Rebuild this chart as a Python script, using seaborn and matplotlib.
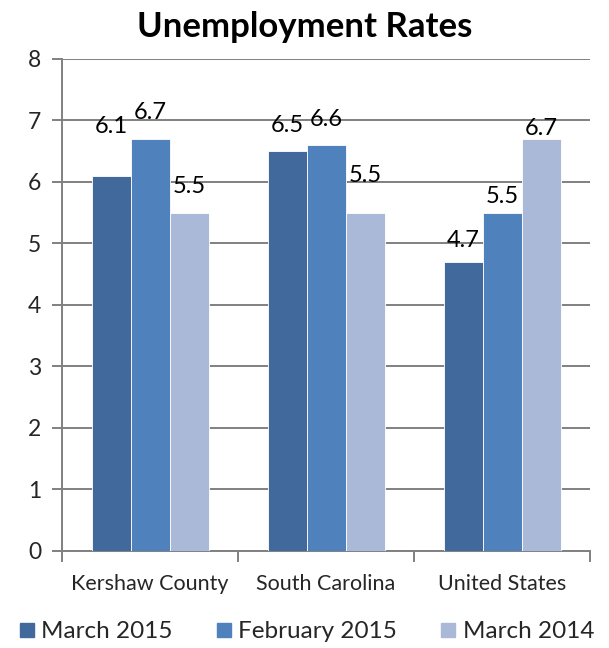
import pandas as pd
import numpy as np
import seaborn as sns
import matplotlib.pyplot as plt

# Chart data
regions = ["Kershaw County", "South Carolina", "United States"]
periods = ["March 2015", "February 2015", "March 2014"]
march_2015 = [6.1, 6.5, 4.7]
february_2015 = [6.7, 6.6, 5.5]
march_2014 = [5.5, 5.5, 6.7]

# Label nudges (points above bar top) to mimic the original placement
label_nudge = [[31, 14, 14], [14, 14, 22], [11, 7, 3]]

colors = ["#41699B", "#4F81BD", "#A9B9D7"]

df = pd.DataFrame({
    "Region": np.repeat(regions, 3),
    "Period": periods * 3,
    "Rate": [v for trio in zip(march_2015, february_2015, march_2014) for v in trio],
})

sns.set_style("white")
plt.rcParams["font.family"] = ["Lato", "DejaVu Sans"]

fig = plt.figure(figsize=(6.09, 6.48), dpi=100)
ax = fig.add_axes([0.102, 0.150, 0.867, 0.759])

sns.barplot(data=df, x="Region", y="Rate", hue="Period", order=regions, hue_order=periods,
            palette=colors, width=0.665, gap=0, saturation=1, ax=ax, legend=False,
            edgecolor="white", linewidth=0.6, zorder=3)

# Value labels above each bar
for j, container in enumerate(ax.containers):
    for i, bar in enumerate(container):
        h = bar.get_height()
        ax.annotate(f"{h:.1f}", (bar.get_x() + bar.get_width() / 2, h),
                    xytext=(0, label_nudge[i][j]), textcoords="offset points",
                    ha="center", va="baseline", fontsize=17, color="black")

# Axes styling
ax.set_ylim(0, 8)
ax.set_xlim(-0.5, 2.5)
ax.set_yticks(range(0, 9))
ax.yaxis.grid(True, color="#808080", linewidth=1.4, zorder=0)
ax.set_axisbelow(True)
for side in ["top", "right"]:
    ax.spines[side].set_visible(False)
for side in ["left", "bottom"]:
    ax.spines[side].set_color("#808080")
    ax.spines[side].set_linewidth(1.4)
ax.tick_params(axis="y", left=True, length=7, color="#808080", width=1.4, labelsize=16.5, pad=8)
ax.set_xticks([-0.5, 0.5, 1.5, 2.5], minor=True)
ax.tick_params(axis="x", which="minor", bottom=True, length=8, color="#808080", width=1.4)
ax.tick_params(axis="x", which="major", bottom=False, labelsize=15.5, pad=13)
ax.set_xlabel("")
ax.set_ylabel("")

fig.suptitle("Unemployment Rates", x=0.5, y=0.958, va="center", fontsize=25, fontweight="bold",
             color="black")

# Legend at the bottom
handles = [plt.Line2D([], [], marker="s", linestyle="", markersize=10, color=c) for c in colors]
fig.legend(handles, periods, loc="center", bbox_to_anchor=(0.5, 0.025), ncol=3, frameon=False,
           fontsize=17.5, handletextpad=0.1, columnspacing=1.6, handlelength=1.0)

fig.savefig("out.png", dpi=100)
